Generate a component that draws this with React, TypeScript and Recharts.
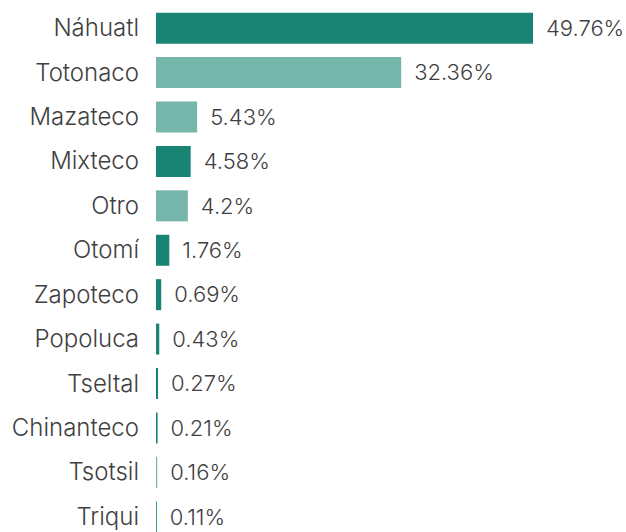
import { Bar, BarChart, Cell, LabelList, XAxis, YAxis } from "recharts";

const lenguas = [
  "Náhuatl",
  "Totonaco",
  "Mazateco",
  "Mixteco",
  "Otro",
  "Otomí",
  "Zapoteco",
  "Popoluca",
  "Tseltal",
  "Chinanteco",
  "Tsotsil",
  "Triqui",
];
const porcentajes = [49.76, 32.36, 5.43, 4.58, 4.2, 1.76, 0.69, 0.43, 0.27, 0.21, 0.16, 0.11];
const tonos = ["dark", "light", "light", "dark", "light", "dark", "dark", "dark", "dark", "dark", "light", "dark"];

const colores: Record<string, string> = { dark: "#1a8474", light: "#76b5aa" };
const fuente = "Inter, 'Open Sans', sans-serif";

const data = lenguas.map((lengua, i) => ({ lengua, valor: porcentajes[i], tono: tonos[i] }));

function Etiqueta(props: any) {
  const { x, y, payload } = props;
  return (
    <text x={x - 9} y={y} dy={8} textAnchor="end" fontSize={24} fontWeight={300} fontFamily={fuente} fill="#404040">
      {payload.value}
    </text>
  );
}

export default function App() {
  return (
    <div style={{ position: "absolute", left: 0, top: 0, background: "#fff" }}>
      <BarChart
        width={626}
        height={547}
        data={data}
        layout="vertical"
        margin={{ top: 6, right: 93, bottom: 8, left: 0 }}
        barCategoryGap="15%"
      >
        <XAxis type="number" domain={[0, 49.76]} hide />
        <YAxis
          type="category"
          dataKey="lengua"
          width={156}
          axisLine={false}
          tickLine={false}
          tick={<Etiqueta />}
          interval={0}
        />
        <Bar dataKey="valor" isAnimationActive={false}>
          {data.map((d) => (
            <Cell key={d.lengua} fill={colores[d.tono]} />
          ))}
          <LabelList
            dataKey="valor"
            position="right"
            offset={13}
            formatter={(v: any) => `${v}%`}
            style={{ fontSize: 22, fontWeight: 300, fontFamily: fuente, fill: "#404040" }}
          />
        </Bar>
      </BarChart>
    </div>
  );
}
